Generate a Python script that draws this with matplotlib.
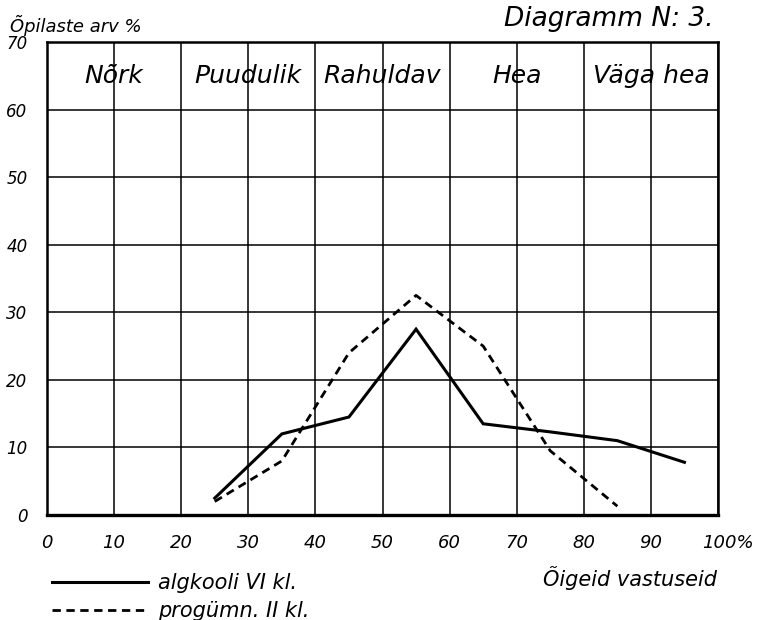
import numpy as np
import matplotlib
matplotlib.use('Agg')  # backend 'Agg'
import matplotlib.pyplot as plt
import matplotlib.transforms as mtransforms

# values (class midpoints of the 10% bins)
algkool_x = [25, 35, 45, 55, 65, 75, 85, 95]
algkool_pct = [2.5, 12.0, 14.5, 27.5, 13.5, 12.3, 11.0, 7.8]
progymn_x = [25, 35, 45, 55, 65, 75, 85]
progymn_pct = [2.0, 8.0, 24.0, 32.5, 25.0, 9.5, 1.3]

x_ticks = [0, 10, 20, 30, 40, 50, 60, 70, 80, 90, 100]
x_tick_labels = ['0', '10', '20', '30', '40', '50', '60', '70', '80', '90', '100%']
y_ticks = [0, 10, 20, 30, 40, 50, 60, 70]
grade_edges = [0, 20, 40, 60, 80, 100]
grade_names = ['Nõrk', 'Puudulik', 'Rahuldav', 'Hea', 'Väga hea']
legend_labels = ['algkooli VI kl.', 'progümn. II kl.']

hand = dict(family='DejaVu Sans', style='oblique')

fig = plt.figure(figsize=(7.59, 6.2), dpi=100)
ax = fig.add_axes([47 / 759, 1 - 515 / 620, 671 / 759, 473 / 620])

ax.set_xlim(0, 100)
ax.set_ylim(0, 70)
ax.set_xticks(x_ticks)
ax.set_yticks(y_ticks)
ax.set_xticklabels(x_tick_labels, fontsize=13, **hand)
ax.set_yticklabels([str(v) for v in y_ticks], fontsize=12, **hand)
ax.tick_params(length=0, pad=14)
ax.tick_params(axis='x', pad=14)

# shift "100%" so the digits sit under the last grid line
lab = ax.get_xticklabels()[-1]
lab.set_horizontalalignment('left')
lab.set_transform(lab.get_transform() + mtransforms.ScaledTranslation(-16 / 100, 0, fig.dpi_scale_trans))

ax.grid(True, color='black', linewidth=1.1)
ax.set_axisbelow(True)
for side in ['left', 'right', 'top']:
    ax.spines[side].set_linewidth(1.8)
ax.spines['bottom'].set_linewidth(2.4)

# grade names in the top row
for i, name in enumerate(grade_names):
    cx = (grade_edges[i] + grade_edges[i + 1]) / 2
    ax.text(cx, 65, name, ha='center', va='center', fontsize=18, **hand)

l1, = ax.plot(algkool_x, algkool_pct, color='black', linewidth=2.2, solid_joinstyle='miter')
l2, = ax.plot(progymn_x, progymn_pct, color='black', linewidth=2.0, linestyle=(0, (3, 2)))

ax.set_xlabel('Õigeid vastuseid', fontsize=15, **hand)
ax.xaxis.set_label_coords((630 - 47) / 671, -(566 - 515) / 473)

fig.text(10 / 759, 1 - 32 / 620, 'Õpilaste arv %', ha='left', va='baseline', fontsize=13, **hand)
fig.text(713 / 759, 1 - 26 / 620, 'Diagramm N: 3.', ha='right', va='baseline', fontsize=19, **hand)

leg = fig.legend([l1, l2], legend_labels, loc='upper left', bbox_to_anchor=(52 / 759, 1 - 573 / 620),
                 frameon=False, handlelength=4.6, handletextpad=0.5, labelspacing=0.4,
                 borderpad=0, borderaxespad=0, prop=dict(size=15, **hand))

fig.savefig('out.png', dpi=100)
